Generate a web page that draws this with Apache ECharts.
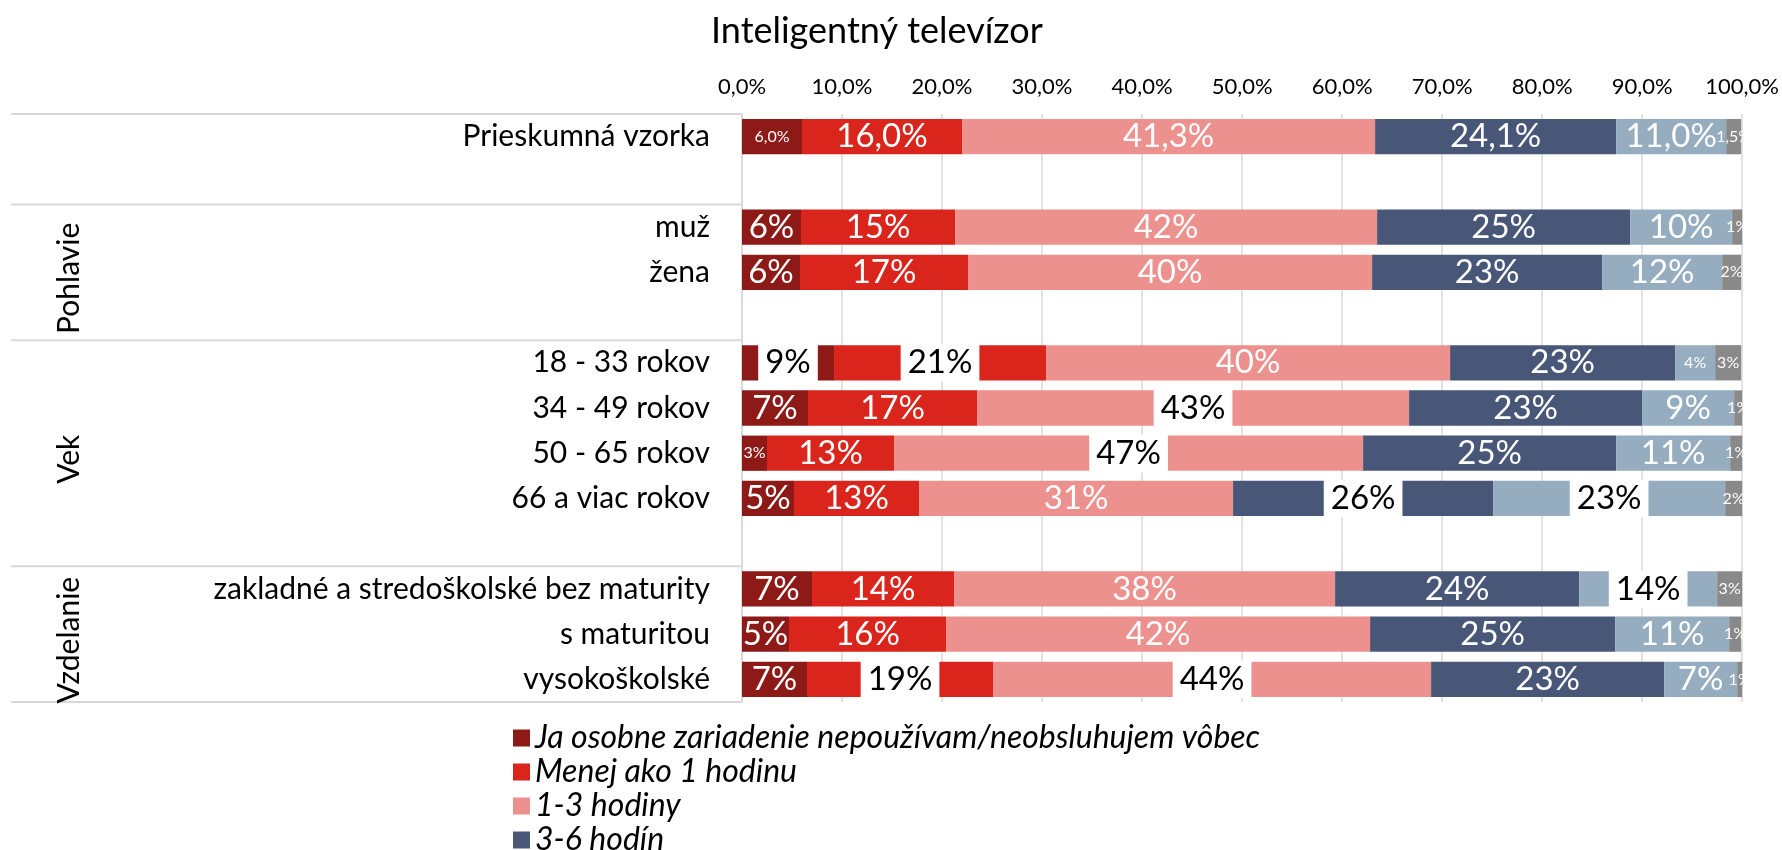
<!DOCTYPE html>
<html lang="sk" style="height: 100%">
<head>
    <meta charset="utf-8">
    <title>Inteligentný televízor</title>
    <script src="https://cdn.jsdelivr.net/npm/echarts@6.0.0/dist/echarts.min.js"></script>
    <style>
        html, body { margin: 0; padding: 0; background: #fff; }
        #chart { width: 1782px; height: 850px; }
    </style>
</head>
<body>
<div id="chart"></div>
<script type="text/javascript">
    // kategórie (prázdne riadky = medzery medzi skupinami)
    var categories = ['Prieskumná vzorka', '', 'muž', 'žena', '', '18 - 33 rokov', '34 - 49 rokov',
        '50 - 65 rokov', '66 a viac rokov', '', 'zakladné a stredoškolské bez maturity', 's maturitou', 'vysokoškolské'];

    var seriesNames = ['Ja osobne zariadenie nepoužívam/neobsluhujem vôbec', 'Menej ako 1 hodinu',
        '1-3 hodiny', '3-6 hodín', '6-10 hodín', 'Viac ako 10 hodín'];

    // hodnoty v %
    var nepouzivam = [6.0, null, 5.9, 5.8, null, 9.2, 6.6, 2.5, 5.2, null, 7.0, 4.7, 6.5];
    var menej1h    = [16.0, null, 15.4, 16.8, null, 21.2, 16.9, 12.7, 12.5, null, 14.2, 15.7, 18.6];
    var h1to3      = [41.3, null, 42.2, 40.4, null, 40.4, 43.2, 46.9, 31.4, null, 38.1, 42.4, 43.8];
    var h3to6      = [24.1, null, 25.3, 23.0, null, 22.5, 23.3, 25.3, 26.0, null, 24.4, 24.5, 23.3];
    var h6to10     = [11.0, null, 10.2, 12.0, null, 4.0, 9.2, 11.4, 23.2, null, 13.8, 11.4, 7.3];
    var viac10     = [1.5, null, 1.0, 1.9, null, 2.6, 0.8, 1.2, 1.7, null, 2.5, 1.2, 0.6];

    var xTicks = [0, 10, 20, 30, 40, 50, 60, 70, 80, 90, 100];

    // skupiny na ľavej strane (indexy kategórií)
    var groups = [
        { name: 'Pohlavie', from: 2, to: 4 },
        { name: 'Vek', from: 5, to: 9 },
        { name: 'Vzdelanie', from: 10, to: 12 }
    ];
    var separators = [0, 2, 5, 10, 13];

    // ktoré popisky majú biely rámik (séria, riadok)
    var boxedLabels = [[0, 5], [1, 5], [2, 6], [2, 7], [3, 8], [4, 8], [4, 10], [1, 12], [2, 12]];

    var colors = ['#8E1A17', '#DA251D', '#EC918E', '#485678', '#95ADBE', '#898989'];
    var FONT = 'Lato';
    var LABEL_SIZE = 33;
    var GRID = { left: 742, right: 35, top: 114, bottom: 148 };
    var plotW = 1782 - GRID.left - GRID.right;

    var ctx = document.createElement('canvas').getContext('2d');
    function textW(t, size) {
        ctx.font = size + 'px ' + FONT;
        return ctx.measureText(t).width;
    }
    function labelText(v, row) {
        return row === 0 ? v.toFixed(1).replace('.', ',') + '%' : Math.round(v) + '%';
    }
    function isBoxed(s, row) {
        return boxedLabels.some(function (b) { return b[0] === s && b[1] === row; });
    }

    var values = [nepouzivam, menej1h, h1to3, h3to6, h6to10, viac10];

    var series = values.map(function (arr, s) {
        return {
            name: seriesNames[s],
            type: 'bar',
            stack: 'spolu',
            barCategoryGap: '22%',
            itemStyle: { color: colors[s] },
            label: {
                show: true,
                position: 'inside',
                color: '#fff',
                fontSize: LABEL_SIZE,
                formatter: function (p) { return labelText(p.value, p.dataIndex); }
            },
            data: arr.map(function (v, row) {
                if (v == null) return '-';
                var item = { value: v };
                if (isBoxed(s, row)) {
                    item.label = { color: '#000', backgroundColor: '#fff', padding: [2, 7], lineHeight: 34 };
                } else if (textW(labelText(v, row), LABEL_SIZE) > v / 100 * plotW + 4) {
                    item.label = { fontSize: 16 };
                }
                return item;
            })
        };
    });

    var chart = echarts.init(document.getElementById('chart'), null, { renderer: 'canvas' });

    chart.setOption({
        animation: false,
        textStyle: { fontFamily: FONT },
        title: {
            text: 'Inteligentný televízor',
            left: 706,
            top: 8,
            textStyle: { fontSize: 36, fontWeight: 'normal', color: '#000', fontFamily: FONT }
        },
        legend: {
            data: seriesNames.slice(0, 4),
            orient: 'vertical',
            left: 508,
            top: 717,
            height: 300,
            itemWidth: 17,
            itemHeight: 17,
            itemGap: 2,
            icon: 'rect',
            textStyle: { fontSize: 32, fontStyle: 'italic', color: '#000', fontFamily: FONT }
        },
        grid: GRID,
        xAxis: {
            type: 'value',
            position: 'top',
            min: xTicks[0],
            max: xTicks[xTicks.length - 1],
            interval: xTicks[1] - xTicks[0],
            axisLine: { show: false },
            axisTick: { show: false },
            axisLabel: {
                fontSize: 22,
                color: '#000',
                margin: 16,
                formatter: function (v) { return v.toFixed(1).replace('.', ',') + '%'; }
            },
            splitLine: { lineStyle: { color: '#D9D9D9', width: 1.5 } }
        },
        yAxis: {
            type: 'category',
            inverse: true,
            data: categories,
            axisLine: { show: true, lineStyle: { color: '#D9D9D9', width: 1.5 } },
            axisTick: { show: false },
            axisLabel: { fontSize: 30, color: '#000', margin: 32 }
        },
        series: series
    });

    // oddeľovače a názvy skupín vľavo od grafu
    var c0 = chart.convertToPixel({ yAxisIndex: 0 }, 0);
    var band = chart.convertToPixel({ yAxisIndex: 0 }, 1) - c0;
    function edge(i) { return c0 + (i - 0.5) * band; }

    var graphic = [];
    separators.forEach(function (i) {
        graphic.push({
            type: 'line',
            shape: { x1: 11, y1: edge(i), x2: GRID.left, y2: edge(i) },
            style: { stroke: '#D9D9D9', lineWidth: 2 },
            silent: true
        });
    });
    groups.forEach(function (g) {
        graphic.push({
            type: 'text',
            x: 69,
            y: (edge(g.from) + edge(g.to + 1)) / 2 + 6,
            rotation: Math.PI / 2,
            style: { text: g.name, font: '30px ' + FONT, fill: '#000', align: 'center', verticalAlign: 'middle' },
            silent: true
        });
    });
    chart.setOption({ graphic: graphic });
</script>
</body>
</html>
